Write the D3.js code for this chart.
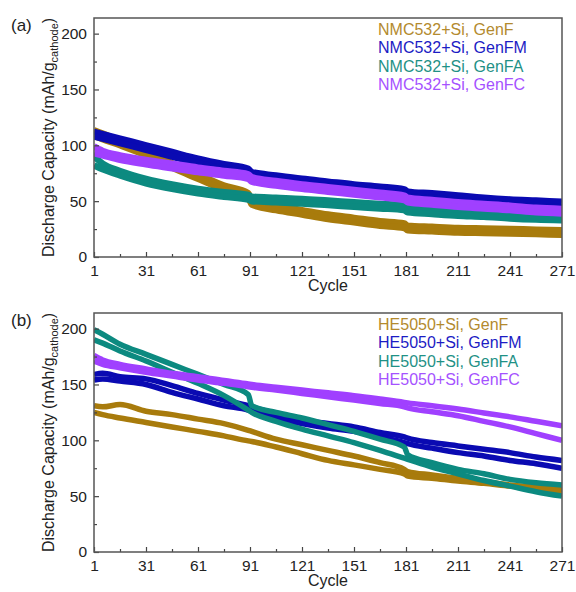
<!DOCTYPE html>
<html>
<head>
<meta charset="utf-8">
<script src="https://cdn.jsdelivr.net/npm/d3@7"></script>
<style>
  html, body { margin: 0; padding: 0; background: #fff; }
  svg { display: block; }
  text { font-family: Arial, "Liberation Sans", Helvetica, sans-serif; }
</style>
</head>
<body>
<svg id="chart" width="576" height="592"></svg>
<script>
// ---------- data ----------
const cycles = [1, 6, 16, 31, 46, 61, 76, 90, 92, 106, 121, 136, 151, 166, 180, 182, 196, 211, 226, 241, 256, 271];
const xTicks = [1, 31, 61, 91, 121, 151, 181, 211, 241, 271];
const xMinorTicks = [16, 46, 76, 106, 136, 166, 196, 226, 256];
const yTicks = [0, 50, 100, 150, 200];
const yMinorTicks = [25, 75, 125, 175];
const seriesNames = ["GenF", "GenFM", "GenFA", "GenFC"];
const seriesColors = ["#a87b0c", "#0a0ab2", "#0c8a80", "#a040ff"];
const legendColors = ["#b38a2e", "#1c1cc4", "#1f9186", "#a552ff"];
const prefixA = "NMC532+Si";
const prefixB = "HE5050+Si";

// Panel (a): NMC532+Si — two cells per electrolyte
const aGenF1  = [113.5, 110.5, 104, 95, 84, 74, 64, 57, 51, 46, 42, 38, 35, 32, 30, 28, 27, 26, 25.5, 25, 24.5, 24];
const aGenF2  = [108.5, 105.5, 100, 91, 80, 70, 60, 53, 47, 42, 38, 34, 31, 28, 26, 24, 23, 22, 21.5, 21, 20.5, 20];
const aGenFM1 = [112, 110, 106, 100, 94, 88, 83, 79, 76, 73, 70, 67.5, 65, 63, 60.5, 58.5, 57, 55, 53, 51.5, 50.5, 49.5];
const aGenFM2 = [108, 106, 102, 96, 90, 84, 79, 75, 72, 69, 66, 63.5, 61, 59, 56.5, 54.5, 53, 51, 49, 46.5, 45.5, 44.5];
const aGenFA1 = [90, 83.5, 77, 70, 65, 61, 58, 55.5, 54, 53, 52, 50.5, 49, 47.5, 46, 44, 42.5, 41, 40, 38.5, 37.5, 37];
const aGenFA2 = [82, 78.5, 73, 66, 61, 57, 54, 51.5, 50, 49, 48, 46.5, 45, 43.5, 42, 40, 38.5, 37, 36, 34.5, 33.5, 33];
const aGenFC1 = [99, 95, 91, 87, 83.5, 80, 77, 74, 71.5, 68, 65, 62.5, 60, 57.5, 55, 53, 51, 49, 47.5, 46, 44, 43];
const aGenFC2 = [93, 91, 87, 83, 79.5, 76, 73, 70, 67.5, 64, 61, 58.5, 56, 53.5, 51, 49, 47, 45, 43.5, 42, 40, 39];

// Panel (b): HE5050+Si — two cells per electrolyte
const bGenF1  = [131, 130, 132, 126, 123, 119, 115, 109, 108, 101, 96, 91, 86, 80, 74, 72, 69, 66, 63, 60, 58, 56];
const bGenF2  = [125, 123, 120, 116, 112, 108, 104, 99.5, 99, 94, 88, 82, 78, 74, 70, 68, 66, 63.5, 61.5, 59, 57, 54];
const bGenFM1 = [159, 160, 157, 155, 149, 142, 136, 131, 130, 124, 118, 115, 112, 107, 103, 102, 98, 95, 92, 89, 85, 82];
const bGenFM2 = [154, 155, 153, 150, 143, 137, 131, 127, 126, 120, 115, 111, 108, 103, 98, 97, 93, 89, 86, 82, 79, 75];
const bGenFA1 = [199, 195, 186, 177, 168, 159, 150, 141, 131, 125, 120, 114, 108, 101, 94, 87, 80, 74, 70, 65, 62, 60];
const bGenFA2 = [190, 187, 180, 171, 161, 151, 140, 127, 125, 117, 110, 104, 98, 91, 84, 83, 76, 70, 64, 59, 54, 50];
const bGenFC1 = [176, 172, 168, 164, 160, 157, 153.5, 150.5, 150, 147.5, 145, 142.5, 140, 137, 134, 133.5, 131, 128, 124.5, 121, 117, 113];
const bGenFC2 = [171, 168, 165, 161, 157.5, 154, 151, 148, 147.5, 145, 142, 139, 136, 133, 130, 129, 125.5, 122, 117, 112, 106, 100];

const panels = [
  { tag: "(a)", prefix: prefixA, top: 18, stroke: 6.5,
    series: [[aGenF1, aGenF2], [aGenFM1, aGenFM2], [aGenFA1, aGenFA2], [aGenFC1, aGenFC2]] },
  { tag: "(b)", prefix: prefixB, top: 313, stroke: 5.5,
    series: [[bGenF1, bGenF2], [bGenFM1, bGenFM2], [bGenFA1, bGenFA2], [bGenFC1, bGenFC2]] }
];

// ---------- drawing ----------
const svg = d3.select("#chart");
svg.append("rect").attr("width", 576).attr("height", 592).attr("fill", "#fff");

const left = 94, right = 562, plotH = 239;
const x = d3.scaleLinear().domain([1, 271]).range([left, right]);
const drawOrder = [0, 1, 2, 3];

panels.forEach(p => {
  const bottom = p.top + plotH;
  const y = d3.scaleLinear().domain([0, 214]).range([bottom, p.top]);
  const g = svg.append("g");

  const clipId = "clip" + p.tag.replace(/\W/g, "");
  svg.append("clipPath").attr("id", clipId)
    .append("rect").attr("x", left).attr("y", p.top).attr("width", right - left).attr("height", plotH);

  const line = d3.line()
    .x((d, i) => x(cycles[i]))
    .y(d => y(d))
    .curve(d3.curveMonotoneX);

  const lines = g.append("g").attr("clip-path", `url(#${clipId})`);
  drawOrder.forEach(si => {
    p.series[si].forEach(cell => {
      lines.append("path")
        .attr("d", line(cell))
        .attr("fill", "none")
        .attr("stroke", seriesColors[si])
        .attr("stroke-width", p.stroke)
        .attr("stroke-linejoin", "round")
        .attr("stroke-linecap", "butt");
    });
  });

  // axes (ticks pointing inward)
  const xAxis = g.append("g").attr("transform", `translate(0,${bottom})`)
    .call(d3.axisBottom(x).tickValues(xTicks).tickSize(-5).tickPadding(8).tickFormat(d3.format("d")));
  const xMinor = g.append("g").attr("transform", `translate(0,${bottom})`)
    .call(d3.axisBottom(x).tickValues(xMinorTicks).tickSize(-3).tickFormat(""));
  const yAxis = g.append("g").attr("transform", `translate(${left},0)`)
    .call(d3.axisLeft(y).tickValues(yTicks).tickSize(-5).tickPadding(7).tickFormat(d3.format("d")));
  const yMinor = g.append("g").attr("transform", `translate(${left},0)`)
    .call(d3.axisLeft(y).tickValues(yMinorTicks).tickSize(-3).tickFormat(""));
  [xAxis, xMinor, yAxis, yMinor].forEach(a => {
    a.select(".domain").remove();
    a.selectAll(".tick line").attr("stroke", "#444").attr("stroke-width", 1.2);
    a.selectAll(".tick text").attr("font-size", 15.5).attr("fill", "#222")
      .style("font-family", "Arial, 'Liberation Sans', sans-serif");
  });

  // frame
  g.append("rect").attr("x", left).attr("y", p.top)
    .attr("width", right - left).attr("height", plotH)
    .attr("fill", "none").attr("stroke", "#555").attr("stroke-width", 1.5);

  // x title
  g.append("text").attr("x", (left + right) / 2).attr("y", bottom + 34)
    .attr("text-anchor", "middle").attr("font-size", 16).attr("fill", "#222").text("Cycle");

  // y title
  const yt = g.append("text")
    .attr("transform", `translate(54,${(p.top + bottom) / 2}) rotate(-90)`)
    .attr("text-anchor", "middle").attr("font-size", 16).attr("fill", "#222");
  yt.append("tspan").text("Discharge Capacity (mAh/g");
  yt.append("tspan").attr("font-size", 11).attr("dy", 4).text("cathode");
  yt.append("tspan").attr("dy", -4).text(")");

  // panel tag
  g.append("text").attr("x", 11).attr("y", p.top + 13)
    .attr("font-size", 17).attr("fill", "#222").text(p.tag);

  // legend
  seriesNames.forEach((n, i) => {
    g.append("text").attr("x", 378).attr("y", p.top + 11 + i * 18.6 + 5.5)
      .attr("font-size", 16).attr("fill", legendColors[i])
      .text(`${p.prefix}, ${n}`);
  });
});
</script>
</body>
</html>
